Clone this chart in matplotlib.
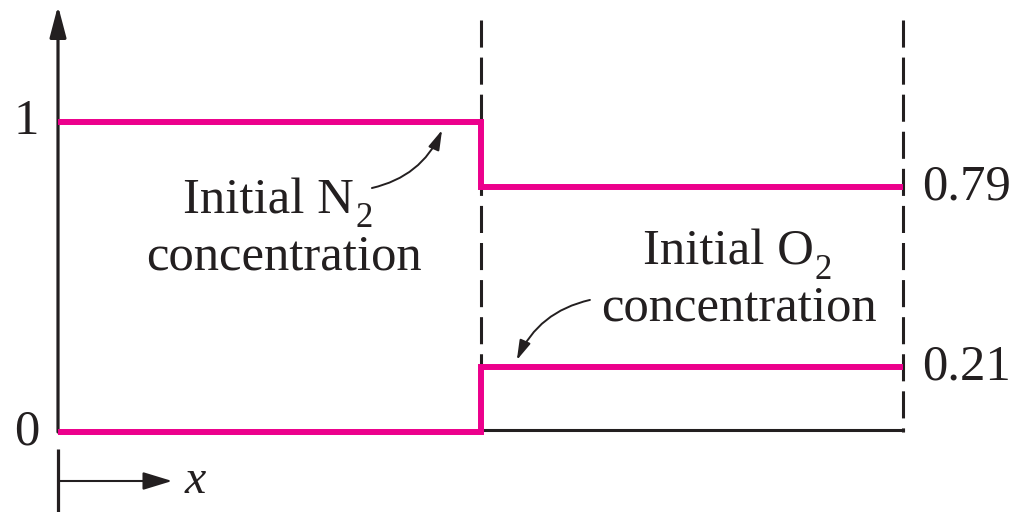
import matplotlib
matplotlib.use("Agg")
import matplotlib.pyplot as plt

plt.rcParams['font.family'] = ['Liberation Serif', 'DejaVu Serif']
plt.rcParams['lines.scale_dashes'] = False

# ---- data ----
x_edges = [0.0, 1.0, 2.0]          # left wall, partition, right wall
n2_conc = [1.0, 0.79]              # initial N2 concentration (left, right)
o2_conc = [0.0, 0.21]              # initial O2 concentration (left, right)
y_ticks = [0, 1]
y_tick_labels = ["0", "1"]
right_labels = ["0.79", "0.21"]

PINK = "#ec008c"
INK = "#231f20"
FS = 36.5
FS_SUB = 25

fig = plt.figure(figsize=(10.12, 5.12), dpi=100)
ax = fig.add_axes([0, 0, 1, 1])
ax.set_xlim(-0.1373, 2.258)
ax.set_ylim(-0.258, 1.3935)
ax.axis("off")

# step profiles
ax.plot(x_edges, [n2_conc[0], n2_conc[1], n2_conc[1]], drawstyle="steps-post",
        color=PINK, lw=4.3, solid_joinstyle="miter", solid_capstyle="butt", zorder=3)
ax.plot(x_edges, [o2_conc[0], o2_conc[1], o2_conc[1]], drawstyle="steps-post",
        color=PINK, lw=4.3, solid_joinstyle="miter", solid_capstyle="butt", zorder=3)

# baseline on the right half
ax.plot([x_edges[1], x_edges[2]], [0.006, 0.006], color=INK, lw=2.2,
        solid_capstyle="projecting", zorder=2)

# dashed partition and right wall
for xv in x_edges[1:]:
    ax.plot([xv, xv], [1.329, 0.0], color=INK, lw=2.2,
            dashes=(19.5, 7.2), zorder=1)

# y axis with arrow
ax.annotate("", xy=(0, 1.375), xytext=(0, 0.0),
            arrowprops=dict(arrowstyle="-|>,head_length=1.9,head_width=0.5",
                            mutation_scale=10, color=INK, lw=2.3,
                            shrinkA=0, shrinkB=0), zorder=2)
ax.plot([0, 0], [-0.055, -0.3], color=INK, lw=2.3, solid_capstyle="butt")

# x direction arrow
ax.annotate("", xy=(0.27, -0.158), xytext=(0, -0.158),
            arrowprops=dict(arrowstyle="-|>,head_length=1.8,head_width=0.55",
                            mutation_scale=10, color=INK, lw=1.5,
                            shrinkA=0, shrinkB=0))
ax.text(0.324, -0.158, "x", fontsize=FS - 2, style="italic", color=INK,
        ha="center", va="center")

# y tick labels
for yv, lab in zip(y_ticks, y_tick_labels):
    ax.text(-0.075, yv, lab, fontsize=FS, color=INK, ha="center", va="center")

# right value labels
for yv, lab in zip([n2_conc[1], o2_conc[1]], right_labels):
    ax.text(2.045, yv, lab, fontsize=FS, color=INK, ha="left", va="center")

# annotations (main text + lowered subscript)
ax.text(0.701, 0.706, "Initial N", fontsize=FS, color=INK, ha="right", va="baseline")
ax.text(0.703, 0.661, "2", fontsize=FS_SUB, color=INK, ha="left", va="baseline")
ax.text(0.534, 0.523, "concentration", fontsize=FS, color=INK, ha="center", va="baseline")
ax.text(1.789, 0.539, "Initial O", fontsize=FS, color=INK, ha="right", va="baseline")
ax.text(1.791, 0.494, "2", fontsize=FS_SUB, color=INK, ha="left", va="baseline")
ax.text(1.612, 0.361, "concentration", fontsize=FS, color=INK, ha="center", va="baseline")

ax.annotate("", xy=(0.909, 0.974), xytext=(0.743, 0.787),
            arrowprops=dict(arrowstyle="-|>,head_length=1.2,head_width=0.35",
                            mutation_scale=10, color=INK, lw=1.4,
                            shrinkA=0, shrinkB=0,
                            connectionstyle="arc3,rad=0.25"))
ax.annotate("", xy=(1.086, 0.232), xytext=(1.259, 0.426),
            arrowprops=dict(arrowstyle="-|>,head_length=1.2,head_width=0.35",
                            mutation_scale=10, color=INK, lw=1.4,
                            shrinkA=0, shrinkB=0,
                            connectionstyle="arc3,rad=0.25"))

fig.savefig("out.png", dpi=100)
